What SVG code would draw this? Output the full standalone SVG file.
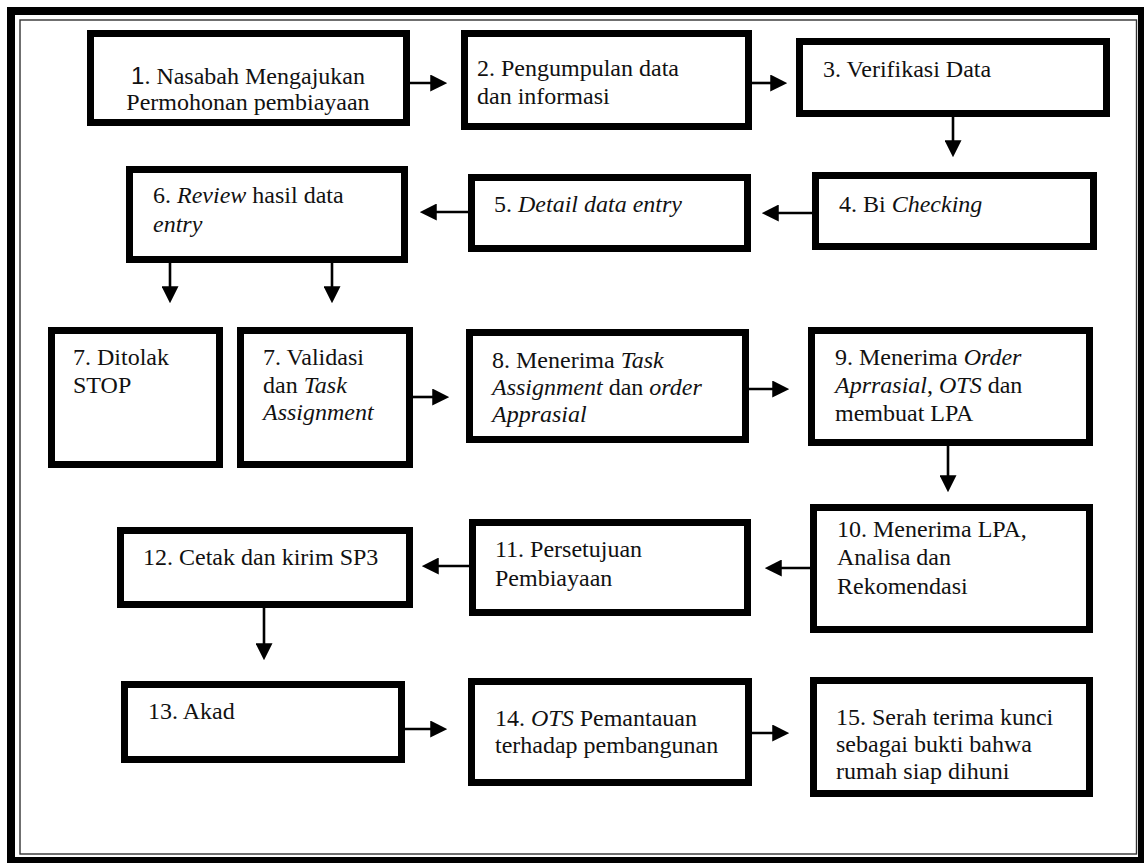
<svg xmlns="http://www.w3.org/2000/svg" width="1144" height="863" viewBox="0 0 1144 863">
<style>
.box{fill:#fff;stroke:#000;stroke-width:7}
.t{font-family:"Liberation Serif","Times New Roman",serif;font-size:24px;fill:#111}
.i{font-style:italic}
.s{font-family:"Liberation Sans",Arial,sans-serif}
.c{stroke:#000;stroke-width:2.6;fill:none}
</style>
<defs>
<marker id="ah" markerUnits="userSpaceOnUse" markerWidth="17" markerHeight="17" refX="12" refY="8" orient="auto" viewBox="0 0 16 16">
<path d="M0,0 L16,8 L0,16 Z" fill="#000"/>
</marker>
</defs>
<rect width="1144" height="863" fill="#fff"/>
<rect x="11" y="11" width="1131" height="850" fill="none" stroke="#000" stroke-width="8"/>
<rect x="20" y="20" width="1116.5" height="834" fill="none" stroke="#333" stroke-width="1.4"/>

<g id="connectors">
<line class="c" x1="410" y1="83" x2="443" y2="83" marker-end="url(#ah)"/>
<line class="c" x1="752" y1="83" x2="783" y2="83" marker-end="url(#ah)"/>
<line class="c" x1="953" y1="117" x2="953" y2="153" marker-end="url(#ah)"/>
<line class="c" x1="812" y1="213" x2="766" y2="213" marker-end="url(#ah)"/>
<line class="c" x1="468" y1="212" x2="424" y2="212" marker-end="url(#ah)"/>
<line class="c" x1="170" y1="263" x2="170" y2="299" marker-end="url(#ah)"/>
<line class="c" x1="332" y1="263" x2="332" y2="299" marker-end="url(#ah)"/>
<line class="c" x1="413" y1="397" x2="445" y2="397" marker-end="url(#ah)"/>
<line class="c" x1="749" y1="389" x2="785" y2="389" marker-end="url(#ah)"/>
<line class="c" x1="948" y1="446" x2="948" y2="488" marker-end="url(#ah)"/>
<line class="c" x1="810" y1="568" x2="769" y2="568" marker-end="url(#ah)"/>
<line class="c" x1="469" y1="566" x2="426" y2="566" marker-end="url(#ah)"/>
<line class="c" x1="264" y1="608" x2="264" y2="656" marker-end="url(#ah)"/>
<line class="c" x1="405" y1="729" x2="443" y2="729" marker-end="url(#ah)"/>
<line class="c" x1="752" y1="733" x2="785" y2="733" marker-end="url(#ah)"/>
</g>

<g id="n1"><rect class="box" x="90.5" y="33.5" width="316" height="89"/>
<text class="t" x="248" y="84" text-anchor="middle"><tspan class="s">1</tspan>. Nasabah Mengajukan</text>
<text class="t" x="248" y="110" text-anchor="middle">Permohonan pembiayaan</text></g>

<g id="n2"><rect class="box" x="464.5" y="33.5" width="284" height="93"/>
<text class="t" x="477" y="76">2. Pengumpulan data</text>
<text class="t" x="477" y="104">dan informasi</text></g>

<g id="n3"><rect class="box" x="799.5" y="41.5" width="307" height="72"/>
<text class="t" x="823" y="77">3. Verifikasi Data</text></g>

<g id="n4"><rect class="box" x="815.5" y="175.5" width="278" height="71"/>
<text class="t" x="839" y="212">4. Bi <tspan class="i">Checking</tspan></text></g>

<g id="n5"><rect class="box" x="471.5" y="177.5" width="276" height="71"/>
<text class="t" x="494" y="212">5. <tspan class="i">Detail data entry</tspan></text></g>

<g id="n6"><rect class="box" x="129.5" y="169.5" width="275" height="90"/>
<text class="t" x="153" y="203">6. <tspan class="i">Review</tspan> hasil data</text>
<text class="t i" x="153" y="232">entry</text></g>

<g id="n7a"><rect class="box" x="51.5" y="330.5" width="168" height="134"/>
<text class="t" x="73" y="365">7. Ditolak</text>
<text class="t" x="73" y="393">STOP</text></g>

<g id="n7b"><rect class="box" x="240.5" y="330.5" width="169" height="134"/>
<text class="t" x="263" y="365">7. Validasi</text>
<text class="t" x="263" y="393">dan <tspan class="i">Task</tspan></text>
<text class="t i" x="263" y="420">Assignment</text></g>

<g id="n8"><rect class="box" x="469.5" y="332.5" width="276" height="107"/>
<text class="t" x="492" y="368">8. Menerima <tspan class="i">Task</tspan></text>
<text class="t" x="492" y="395"><tspan class="i">Assignment</tspan> dan <tspan class="i">order</tspan></text>
<text class="t i" x="492" y="422">Apprasial</text></g>

<g id="n9"><rect class="box" x="811.5" y="330.5" width="278" height="112"/>
<text class="t" x="835" y="365">9. Menerima <tspan class="i">Order</tspan></text>
<text class="t" x="835" y="393"><tspan class="i">Aprrasial</tspan>, <tspan class="i">OTS</tspan> dan</text>
<text class="t" x="835" y="421">membuat LPA</text></g>

<g id="n10"><rect class="box" x="813.5" y="507.5" width="276" height="122"/>
<text class="t" x="837" y="537">10. Menerima LPA,</text>
<text class="t" x="837" y="565">Analisa dan</text>
<text class="t" x="837" y="594">Rekomendasi</text></g>

<g id="n11"><rect class="box" x="472.5" y="522.5" width="275" height="90"/>
<text class="t" x="495" y="557">11. Persetujuan</text>
<text class="t" x="495" y="586">Pembiayaan</text></g>

<g id="n12"><rect class="box" x="120.5" y="530.5" width="289" height="74"/>
<text class="t" x="143" y="565">12. Cetak dan kirim SP3</text></g>

<g id="n13"><rect class="box" x="124.5" y="684.5" width="277" height="75"/>
<text class="t" x="148" y="719">13. Akad</text></g>

<g id="n14"><rect class="box" x="471.5" y="681.5" width="277" height="101"/>
<text class="t" x="495" y="726">14. <tspan class="i">OTS</tspan> Pemantauan</text>
<text class="t" x="495" y="753">terhadap pembangunan</text></g>

<g id="n15"><rect class="box" x="813.5" y="680.5" width="276" height="113"/>
<text class="t" x="836" y="725">15. Serah terima kunci</text>
<text class="t" x="836" y="752">sebagai bukti bahwa</text>
<text class="t" x="836" y="779">rumah siap dihuni</text></g>
</svg>
